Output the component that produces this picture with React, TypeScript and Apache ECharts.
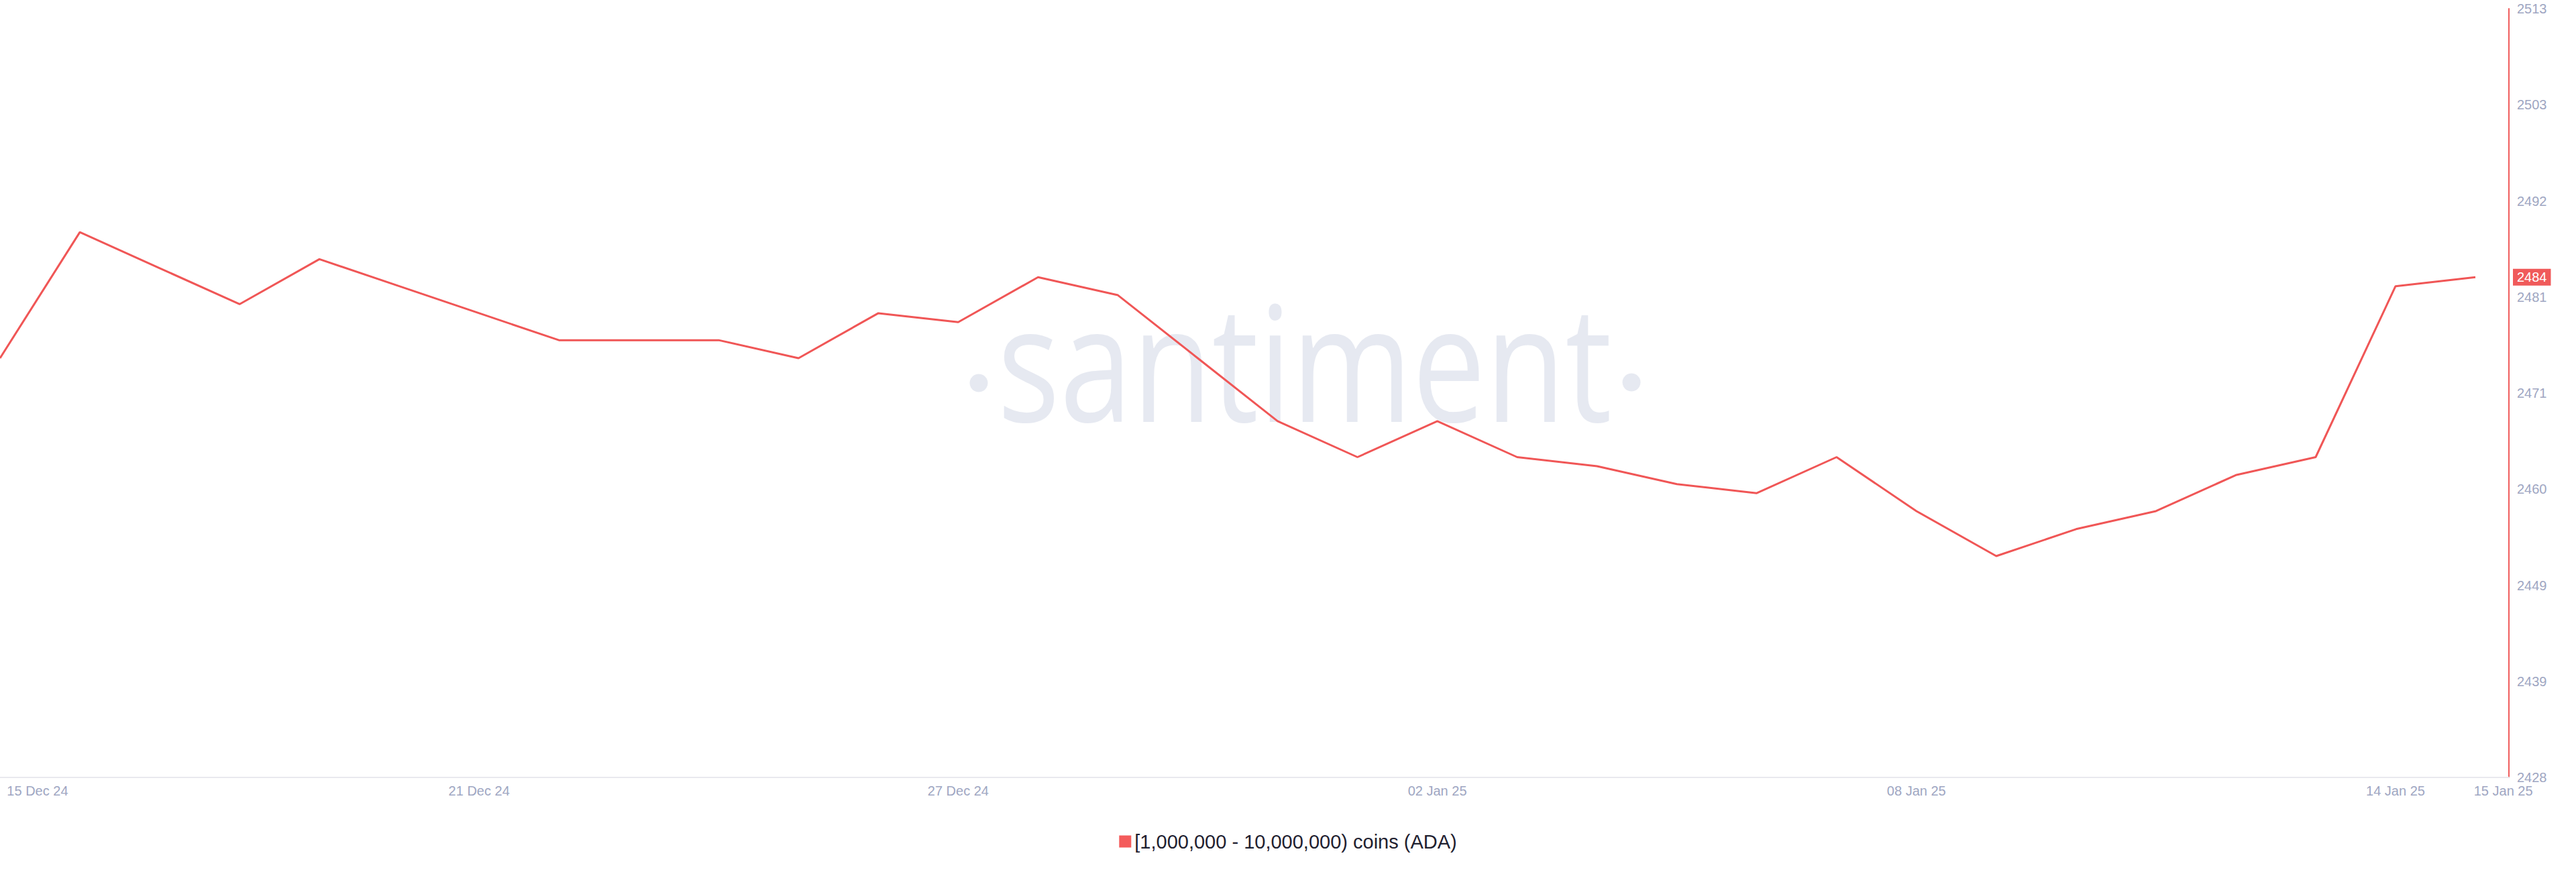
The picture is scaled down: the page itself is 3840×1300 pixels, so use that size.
import React, { useEffect, useRef } from "react";
import * as echarts from "echarts";

// ---- data ----
const startDate = "2024-12-15";
const holderCounts = [
  2475, 2489, 2485, 2481, 2486, 2483, 2480, 2477, 2477, 2477, 2475, 2480, 2479,
  2484, 2482, 2475, 2468, 2464, 2468, 2464, 2463, 2461, 2460, 2464, 2458, 2453,
  2456, 2458, 2462, 2464, 2483, 2484,
];
const seriesName = "[1,000,000 - 10,000,000) coins (ADA)";
const xLabelDates = [
  "2024-12-15",
  "2024-12-21",
  "2024-12-27",
  "2025-01-02",
  "2025-01-08",
  "2025-01-14",
  "2025-01-15",
];
const yMin = 2428.4;
const yMax = 2513.84;
const yStep = 10.68;
const months = ["Jan", "Feb", "Mar", "Apr", "May", "Jun", "Jul", "Aug", "Sep", "Oct", "Nov", "Dec"];

const DAY = 86400000;

function fmtDate(v: number) {
  const d = new Date(v);
  const dd = String(d.getUTCDate()).padStart(2, "0");
  const yy = String(d.getUTCFullYear()).slice(2);
  return `${dd} ${months[d.getUTCMonth()]} ${yy}`;
}

export default function App() {
  const ref = useRef<HTMLDivElement>(null);

  useEffect(() => {
    document.body.style.margin = "0";
    if (!ref.current) return;
    const chart = echarts.init(ref.current, undefined, { renderer: "svg" });
    const t0 = Date.parse(startDate + "T00:00:00Z");
    const data = holderCounts.map((v, i) => [t0 + i * DAY, v]);
    const xMax = t0 + 31.42 * DAY;
    const labelTs = xLabelDates.map((d) => Date.parse(d + "T00:00:00Z"));
    // first label sits inside the plot (left-aligned look), last one near axis end
    const labelVals = labelTs.map((t, i) => {
      if (i === 0) return t + 0.47 * DAY;
      if (i === labelTs.length - 1) return t + 0.35 * DAY;
      return t;
    });
    const last = holderCounts[holderCounts.length - 1];
    const labelColor = "#9ea6c2";
    const font = "'Liberation Sans', Arial, sans-serif";

    chart.setOption({
      animation: false,
      backgroundColor: "#ffffff",
      grid: { left: 0, right: 100, top: 13, bottom: 141, containLabel: false, outerBoundsMode: "none" },
      legend: {
        data: [seriesName],
        top: 1235,
        left: "center",
        icon: "rect",
        itemWidth: 18,
        itemHeight: 18,
        itemGap: 10,
        selectedMode: false,
        textStyle: { fontSize: 29, color: "#1f2130", fontFamily: font },
      },
      graphic: [
        {
          type: "text",
          x: 1487,
          y: 536,
          scaleX: 0.81,
          z: 0,
          silent: true,
          style: {
            text: "santiment",
            fontSize: 240,
            fontFamily: "'Open Sans', sans-serif",
            fill: "#e6e9f1",
            align: "left",
            verticalAlign: "middle",
          },
        },
        { type: "circle", z: 0, silent: true, shape: { cx: 1459, cy: 571, r: 13.5 }, style: { fill: "#e6e9f1" } },
        { type: "circle", z: 0, silent: true, shape: { cx: 2432, cy: 570, r: 13.5 }, style: { fill: "#e6e9f1" } },
      ],
      xAxis: {
        type: "value",
        min: t0,
        max: xMax,
        axisLine: { show: true, lineStyle: { color: "#e9e9ee", width: 2 } },
        axisTick: { show: false },
        splitLine: { show: false },
        axisLabel: {
          customValues: labelVals,
          color: labelColor,
          fontSize: 20,
          fontFamily: font,
          margin: 10,
          formatter: (v: number) => fmtDate(Math.floor(v / DAY) * DAY),
        },
      },
      yAxis: {
        type: "value",
        position: "right",
        min: yMin,
        max: yMax,
        interval: yStep,
        axisLine: { show: true, lineStyle: { color: "#f05d5d", width: 2 } },
        axisTick: { show: false },
        splitLine: { show: false },
        axisLabel: {
          color: labelColor,
          fontSize: 20,
          fontFamily: font,
          margin: 12,
          formatter: (v: number) => String(Math.floor(v + 1e-6)),
        },
      },
      series: [
        {
          name: seriesName,
          type: "line",
          data,
          showSymbol: false,
          symbol: "none",
          color: "#f45b5b",
          lineStyle: { color: "#f05656", width: 3 },
          z: 3,
          markLine: {
            silent: true,
            symbol: ["none", "none"],
            lineStyle: { color: "rgba(0,0,0,0)", width: 0 },
            data: [{ yAxis: last }],
            label: {
              show: true,
              position: "end",
              distance: 6,
              formatter: String(last),
              color: "#ffffff",
              backgroundColor: "#f05a5a",
              fontSize: 20,
              fontFamily: font,
              padding: [3, 6, 2, 6],
            },
          },
        },
      ],
    });
    return () => chart.dispose();
  }, []);

  return <div ref={ref} style={{ width: 3840, height: 1300 }} />;
}
